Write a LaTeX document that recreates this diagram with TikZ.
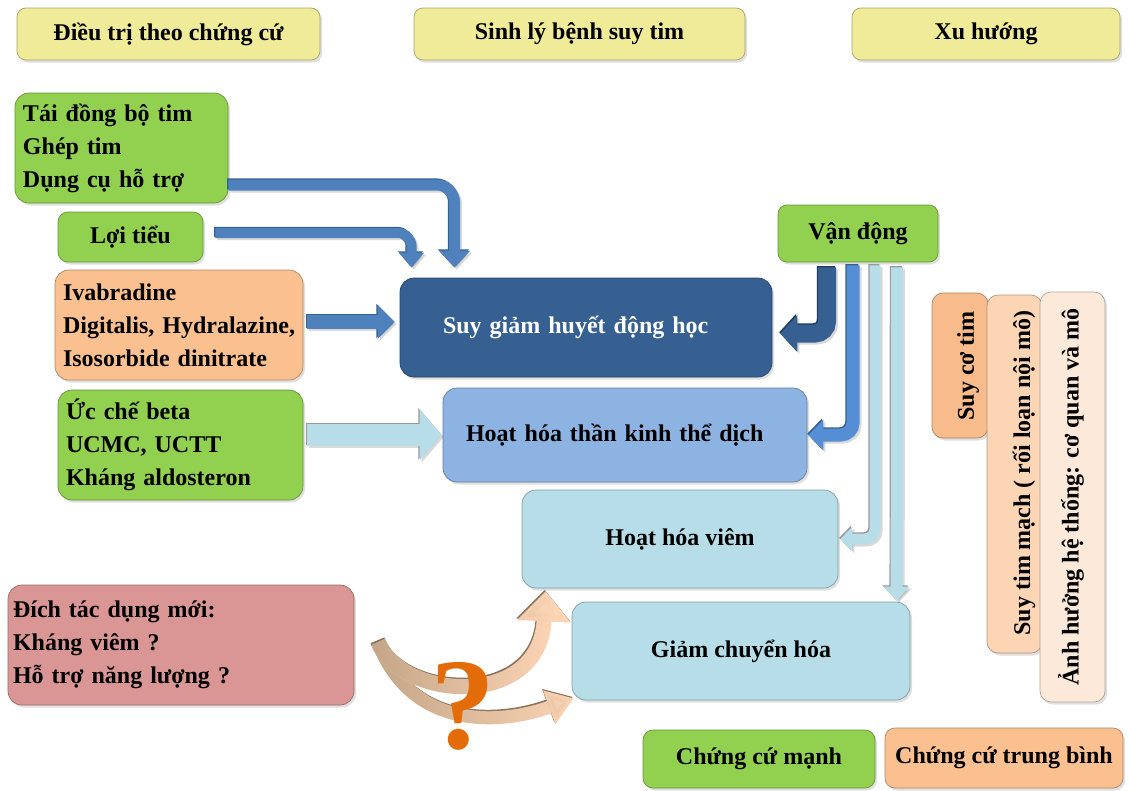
\documentclass[tikz,border=0pt]{standalone}
\usepackage{fontspec}
\setmainfont{Liberation Serif}
\usetikzlibrary{arrows.meta,shadows,fadings}

\definecolor{hdrfill}{HTML}{F0EB98}
\definecolor{grn}{HTML}{92D050}
\definecolor{org}{HTML}{FAC090}
\definecolor{orgdeep}{HTML}{F7BB8C}
\definecolor{navy}{HTML}{366092}
\definecolor{midblue}{HTML}{8DB3E2}
\definecolor{paleblue}{HTML}{B7DEE8}
\definecolor{rose}{HTML}{D99694}
\definecolor{peach}{HTML}{FCD5B5}
\definecolor{blush}{HTML}{FDE9D9}
\definecolor{arrblue}{HTML}{4F81BD}
\definecolor{arrmid}{HTML}{558ED5}
\definecolor{tanbrown}{HTML}{C4A587}
\definecolor{qorange}{HTML}{E36C09}

\newcommand\txtfont{\fontsize{24}{33}\selectfont\bfseries}

% block arrow: soft shadow, dark upper-left edge, then the arrow itself
\newcommand\blockarrow[3]{%
  \draw[#1, draw=black, opacity=0.15, transform canvas={xshift=2pt,yshift=-2pt}] #3;
  \draw[#1, draw=#2, transform canvas={xshift=-1.2pt,yshift=1.2pt}] #3;
  \draw[#1] #3;}

\tikzfading[name=warmfade, left color=transparent!0, right color=transparent!100]

\begin{document}
\begin{tikzpicture}[x=1pt,y=-1pt,
  box/.style={rounded corners=14pt, fill=#1, draw=#1!70!black, line width=0.7pt,
    drop shadow={shadow xshift=2pt,shadow yshift=-2.5pt,opacity=0.25},
    inner sep=0pt, font=\txtfont, text=black},
  hbox/.style={box=hdrfill, rounded corners=9pt, minimum height=52pt},
  vtext/.style={rotate=90, font=\txtfont, inner sep=0pt}]
\useasboundingbox (0,0) rectangle (1129,790);

% column headers
\node[hbox, minimum width=303pt] (h1) at (168.5,34) {Điều trị theo chứng cứ};
\node[hbox, minimum width=331pt] (h2) at (579.5,34) {Sinh lý bệnh suy tim};
\node[hbox, minimum width=268pt] (h3) at (986,34) {Xu hướng};

% treatments
\node[box=grn, minimum width=213pt, minimum height=110pt, align=left, text width=197pt, inner xsep=8pt]
  (g1) at (121.5,148) {Tái đồng bộ tim\\Ghép tim\\Dụng cụ hỗ trợ};
\node[box=grn, minimum width=145pt, minimum height=50pt, rounded corners=10pt] (g2) at (130.5,237) {Lợi tiểu};
\node[box=org, minimum width=248pt, minimum height=110pt, align=left, text width=232pt, inner xsep=8pt]
  (o1) at (179,325) {Ivabradine\\Digitalis, Hydralazine,\\Isosorbide dinitrate};
\node[box=grn, minimum width=245pt, minimum height=110pt, align=left, text width=229pt, inner xsep=8pt]
  (g3) at (180.5,445) {Ức chế beta\\UCMC, UCTT\\Kháng aldosteron};
\node[box=rose, minimum width=346pt, minimum height=120pt, align=left, text width=336pt, inner xsep=5pt]
  (p1) at (181,645) {Đích tác dụng mới:\\Kháng viêm ?\\Hỗ trợ năng lượng ?};

% pathophysiology
\node[box=navy, minimum width=372pt, minimum height=99pt, align=left, text width=286pt, inner xsep=43pt, text=white]
  (b1) at (586,327.5) {Suy giảm huyết động học};
\node[box=midblue, minimum width=364pt, minimum height=94pt, align=left, text width=318pt, inner xsep=23pt]
  (b2) at (625,435) {Hoạt hóa thần kinh thể dịch};
\node[box=paleblue, minimum width=316pt, minimum height=98pt] (b3) at (680,539) {Hoạt hóa viêm};
\node[box=paleblue, minimum width=338pt, minimum height=98pt] (b4) at (741,651) {Giảm chuyển hóa};

% exercise
\node[box=grn, minimum width=160pt, minimum height=57pt, rounded corners=9pt] (vd) at (858,233.5) {Vận động};

% trends
\node[box=orgdeep, minimum width=56pt, minimum height=145pt, rounded corners=11pt] (r1) at (960,365.5) {};
\node[box=peach, minimum width=55pt, minimum height=358pt, rounded corners=11pt] (r2) at (1014.5,474) {};
\node[box=blush, minimum width=65pt, minimum height=410pt, rounded corners=11pt] (r3) at (1072.5,497) {};
\node[vtext] (r1t) at (968,366) {Suy cơ tim};
\node[vtext] (r2t) at (1024,473) {Suy tim mạch ( rối loạn nội mô)};
\node[vtext] (r3t) at (1071,497) {Ảnh hưởng hệ thống: cơ quan và mô};

% legend
\node[box=grn, minimum width=232pt, minimum height=58pt, rounded corners=10pt] (l1) at (759,759) {Chứng cứ mạnh};
\node[box=org, minimum width=238pt, minimum height=60pt, rounded corners=10pt] (l2) at (1004,758) {Chứng cứ trung bình};

% arrows into the haemodynamic box
\blockarrow{line width=11pt, draw=arrblue, rounded corners=18pt, -{Triangle[width=30pt,length=17pt]}}{navy}
  {([yshift=-37pt]g1.east) -| ([xshift=55pt,yshift=10pt]b1.north west)}
\blockarrow{line width=10pt, draw=arrblue, rounded corners=14pt, -{Triangle[width=24pt,length=15pt]}}{navy}
  {([xshift=12pt,yshift=4pt]g2.east) -| ([xshift=12pt,yshift=10pt]b1.north west)}
\blockarrow{line width=14pt, draw=arrblue, -{Triangle[width=33pt,length=17pt]}}{navy}
  {([xshift=4pt,yshift=3pt]o1.east) -- ([xshift=-5pt,yshift=5.5pt]b1.west)}
\blockarrow{line width=22pt, draw=paleblue, -{Triangle[width=50pt,length=22pt]}}{gray!80}
  {([xshift=4pt,yshift=10pt]g3.east) -- ([xshift=-1pt]b2.west)}

% arrows from exercise
\blockarrow{line width=18pt, draw=navy, rounded corners=12pt, -{Triangle[width=36pt,length=17pt]}}{navy!60!black}
  {([xshift=-31pt,yshift=-5pt]vd.south) |- ([xshift=8pt,yshift=-6pt]b1.east)}
\blockarrow{line width=13pt, draw=arrmid, rounded corners=12pt, -{Triangle[width=30pt,length=15pt]}}{navy}
  {([xshift=-5pt,yshift=-3pt]vd.south) |- ([xshift=1pt]b2.east)}
\blockarrow{line width=11pt, draw=paleblue, rounded corners=10pt, -{Triangle[width=24pt,length=12pt]}}{gray!80}
  {([xshift=17pt,yshift=-3pt]vd.south) |- ([xshift=2pt]b3.east)}
\blockarrow{line width=12pt, draw=paleblue, -{Triangle[width=25pt,length=14pt]}}{gray!80}
  {([xshift=39pt,yshift=-5pt]vd.south) -- ([xshift=325pt,yshift=1pt]b4.north west)}

% curved arrows towards the new targets
\draw[tanbrown!70!black, line width=13pt, -{Triangle[width=34pt,length=26pt]}, transform canvas={xshift=-1pt,yshift=1.5pt}]
  ([xshift=24pt,yshift=3pt]p1.east) .. controls +(32,88) and +(-74,27) .. ([xshift=2pt,yshift=2pt]b4.south west);
\draw[peach, line width=13pt, -{Triangle[width=34pt,length=26pt]}]
  ([xshift=24pt,yshift=3pt]p1.east) .. controls +(32,88) and +(-74,27) .. ([xshift=2pt,yshift=2pt]b4.south west);
\draw[tanbrown, line width=13pt, -{Triangle[width=34pt,length=26pt]}, path fading=warmfade]
  ([xshift=24pt,yshift=3pt]p1.east) .. controls +(32,88) and +(-74,27) .. ([xshift=2pt,yshift=2pt]b4.south west);

\draw[tanbrown!70!black, line width=15pt, -{Triangle[width=52pt,length=30pt]}, transform canvas={xshift=-1pt,yshift=1.5pt}]
  ([xshift=24pt,yshift=3pt]p1.east) .. controls +(22,58) and +(-6,119) .. ([xshift=24pt,yshift=-3pt]b3.south west);
\draw[peach, line width=15pt, -{Triangle[width=52pt,length=30pt]}]
  ([xshift=24pt,yshift=3pt]p1.east) .. controls +(22,58) and +(-6,119) .. ([xshift=24pt,yshift=-3pt]b3.south west);
\draw[tanbrown, line width=15pt, -{Triangle[width=52pt,length=30pt]}, path fading=warmfade]
  ([xshift=24pt,yshift=3pt]p1.east) .. controls +(22,58) and +(-6,119) .. ([xshift=24pt,yshift=-3pt]b3.south west);

\node[text=qorange, font=\fontsize{130}{130}\selectfont\bfseries, inner sep=0pt] (qm) at (463,706) {?};
\end{tikzpicture}
\end{document}
